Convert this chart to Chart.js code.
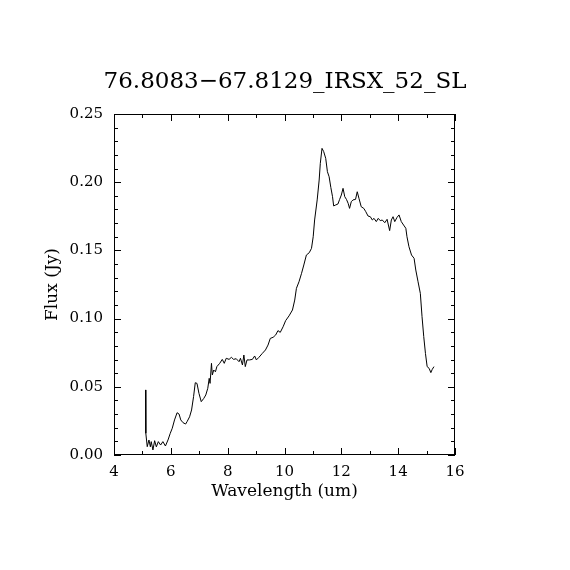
<!DOCTYPE html>
<html>
<head>
<meta charset="utf-8">
<title>76.8083-67.8129_IRSX_52_SL</title>
<script src="https://cdn.jsdelivr.net/npm/chart.js@4/dist/chart.umd.min.js"></script>
<style>
  html, body { margin: 0; padding: 0; background: #fff; }
  #wrap { width: 570px; height: 570px; }
</style>
</head>
<body>
<div id="wrap"><canvas id="spec" width="570" height="570"></canvas></div>
<script>
// IRS SL spectrum
const wavelength = [
  5.11, 5.12, 5.17, 5.23, 5.28, 5.31, 5.37, 5.43, 5.49, 5.56, 5.64, 5.72, 5.81, 5.90, 5.98,
  6.05, 6.13, 6.22, 6.29, 6.35, 6.43, 6.52, 6.57, 6.66, 6.73, 6.80, 6.86, 6.92, 6.99,
  7.07, 7.16, 7.23, 7.30, 7.35, 7.38, 7.43, 7.46, 7.51, 7.57, 7.62, 7.72, 7.81, 7.88, 7.95,
  8.05, 8.13, 8.21, 8.30, 8.40, 8.45, 8.52, 8.57, 8.62, 8.68, 8.77, 8.87, 8.95,
  9.01, 9.10, 9.22, 9.33, 9.42, 9.50, 9.60, 9.69, 9.77, 9.85, 9.95,
  10.04, 10.16, 10.28, 10.36, 10.42, 10.51, 10.60, 10.68, 10.77, 10.87, 10.95,
  11.01, 11.06, 11.15, 11.22, 11.26, 11.32, 11.38, 11.45, 11.51, 11.57, 11.63, 11.69, 11.73, 11.80, 11.88, 11.94,
  12.00, 12.06, 12.12, 12.18, 12.24, 12.29, 12.35, 12.41, 12.50, 12.56, 12.62, 12.70, 12.79, 12.86, 12.94,
  13.02, 13.09, 13.15, 13.23, 13.30, 13.37, 13.44, 13.53, 13.61, 13.70, 13.76, 13.82, 13.88, 13.96,
  14.03, 14.11, 14.19, 14.27, 14.31, 14.38, 14.47, 14.56, 14.62, 14.70, 14.78, 14.84, 14.90, 14.96,
  15.02, 15.09, 15.15, 15.20, 15.26
];
const flux = [
  0.0477, 0.0159, 0.0061, 0.0110, 0.0060, 0.0098, 0.0037, 0.0105, 0.0060, 0.0098, 0.0073, 0.0098, 0.0066, 0.0110, 0.0159,
  0.0196, 0.0257, 0.0310, 0.0300, 0.0257, 0.0237, 0.0227, 0.0244, 0.0280, 0.0330, 0.0428, 0.0530, 0.0525, 0.0452,
  0.0391, 0.0415, 0.0440, 0.0489, 0.0562, 0.0525, 0.0672, 0.0587, 0.0623, 0.0610, 0.0648, 0.0672, 0.0701, 0.0672, 0.0709,
  0.0701, 0.0716, 0.0701, 0.0706, 0.0684, 0.0709, 0.0660, 0.0733, 0.0648, 0.0697, 0.0697, 0.0701, 0.0726,
  0.0697, 0.0716, 0.0745, 0.0770, 0.0806, 0.0855, 0.0863, 0.0880, 0.0912, 0.0899, 0.0940,
  0.0985, 0.1020, 0.1063, 0.1136, 0.1222, 0.1270, 0.1332, 0.1393, 0.1466, 0.1483, 0.1515,
  0.1600, 0.1723, 0.1870, 0.2016, 0.2138, 0.2248, 0.2224, 0.2175, 0.2077, 0.2040, 0.1962, 0.1894, 0.1826, 0.1833, 0.1840, 0.1874,
  0.1906, 0.1955, 0.1894, 0.1874, 0.1845, 0.1808, 0.1857, 0.1870, 0.1874, 0.1930, 0.1882, 0.1820, 0.1808, 0.1784, 0.1752,
  0.1747, 0.1723, 0.1735, 0.1711, 0.1735, 0.1718, 0.1723, 0.1703, 0.1728, 0.1645, 0.1723, 0.1747, 0.1711, 0.1742,
  0.1760, 0.1711, 0.1686, 0.1662, 0.1600, 0.1527, 0.1466, 0.1442, 0.1356, 0.1270, 0.1185, 0.1014, 0.0868, 0.0745,
  0.0648, 0.0635, 0.0604, 0.0628, 0.0648
];
const xRange = [4, 16];
const yRange = [0, 0.25];
const xMinorStep = 1;
const yMinorStep = 0.01;

const FONT = "'DejaVu Serif', 'Liberation Serif', serif";
Chart.defaults.font.family = FONT;
Chart.defaults.color = '#000';

// IDL-style frame: box on all sides, ticks pointing inward
const frameTicks = {
  id: 'frameTicks',
  afterDraw(chart) {
    const { ctx, chartArea: a } = chart;
    const xs = chart.scales.x, ys = chart.scales.y;
    ctx.save();
    ctx.strokeStyle = '#000';
    ctx.lineWidth = 1;
    ctx.strokeRect(Math.round(a.left) + 0.5, Math.round(a.top) + 0.5,
      Math.round(a.right - a.left) - 1, Math.round(a.bottom - a.top) - 1);
    ctx.beginPath();
    for (let v = xRange[0]; v <= xRange[1] + 1e-9; v += xMinorStep) {
      const px = Math.round(xs.getPixelForValue(v)) + 0.5;
      const len = (v % 2 === 0) ? 7 : 4;
      ctx.moveTo(px, a.bottom); ctx.lineTo(px, a.bottom - len);
      ctx.moveTo(px, a.top); ctx.lineTo(px, a.top + len);
    }
    for (let i = 0; i <= Math.round((yRange[1] - yRange[0]) / yMinorStep); i++) {
      const v = yRange[0] + i * yMinorStep;
      const py = Math.round(ys.getPixelForValue(v)) + 0.5;
      const len = (i % 5 === 0) ? 7 : 4;
      ctx.moveTo(a.left, py); ctx.lineTo(a.left + len, py);
      ctx.moveTo(a.right, py); ctx.lineTo(a.right - len, py);
    }
    ctx.stroke();
    ctx.restore();
  }
};

function makeChart() {
  const ctx = document.getElementById('spec').getContext('2d');
  const points = wavelength.map((w, i) => ({ x: w, y: flux[i] }));
  return new Chart(ctx, {
    type: 'line',
    data: {
      datasets: [{
        data: points,
        borderColor: '#000',
        borderWidth: 1,
        pointRadius: 0,
        tension: 0,
        fill: false
      }]
    },
    options: {
      responsive: false,
      animation: false,
      devicePixelRatio: 1,
      layout: { padding: 0 },
      plugins: {
        legend: { display: false },
        tooltip: { enabled: false },
        title: {
          display: true,
          text: '76.8083\u221267.8129_IRSX_52_SL',
          color: '#000',
          font: { family: FONT, size: 23, weight: 'normal', lineHeight: 1.2 },
          padding: { top: 68, bottom: 114 - 68 - 27.6 }
        }
      },
      scales: {
        x: {
          type: 'linear',
          min: xRange[0], max: xRange[1],
          grid: { display: false, drawTicks: false },
          border: { display: false },
          ticks: {
            stepSize: 2, color: '#000', padding: 8,
            font: { family: FONT, size: 15 },
            maxRotation: 0
          },
          title: {
            display: true, text: 'Wavelength (um)', color: '#000',
            font: { family: FONT, size: 17, lineHeight: 1.2 },
            padding: { top: 0, bottom: 68 }
          },
          afterFit(scale) { scale.height = 115; }
        },
        y: {
          type: 'linear',
          min: yRange[0], max: yRange[1],
          grid: { display: false, drawTicks: false },
          border: { display: false },
          ticks: {
            stepSize: 0.05, color: '#000', padding: 11,
            font: { family: FONT, size: 15 },
            callback: v => Number(v).toFixed(2)
          },
          title: {
            display: true, text: 'Flux (Jy)', color: '#000',
            font: { family: FONT, size: 17, lineHeight: 1.2 },
            padding: { top: 42, bottom: 0 }
          },
          afterFit(scale) { scale.width = 114; }
        },
        // empty right-hand box so the plot sits where the reference has it
        yRight: {
          type: 'linear', position: 'right',
          min: yRange[0], max: yRange[1],
          grid: { display: false, drawTicks: false },
          border: { display: false },
          ticks: { display: false },
          afterFit(scale) { scale.width = 115; }
        }
      }
    },
    plugins: [frameTicks]
  });
}

makeChart();
</script>
</body>
</html>
